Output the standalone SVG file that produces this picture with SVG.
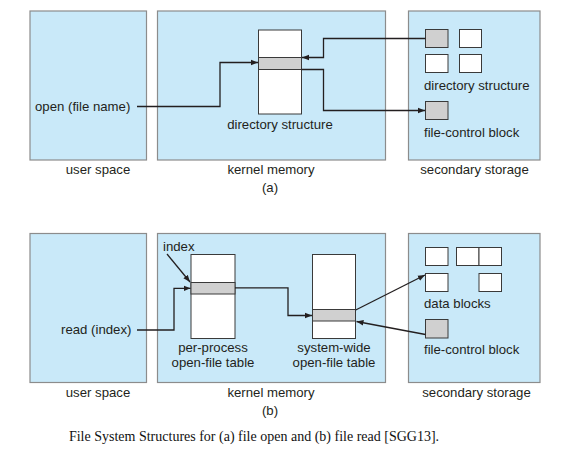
<svg xmlns="http://www.w3.org/2000/svg" width="575" height="458" viewBox="0 0 575 458">
<style>
.panel{fill:#c9e9f9;stroke:#8c8c8c;stroke-width:1.2}
.blk{fill:#ffffff;stroke:#3a3a3a;stroke-width:1}
.gblk{fill:#d0d0d0;stroke:#3a3a3a;stroke-width:1}
.t{font-family:"Liberation Sans",Arial,sans-serif;font-size:13.2px;fill:#231f20}
.m{text-anchor:middle}
.cap{font-family:"Liberation Serif","Times New Roman",serif;font-size:14px;fill:#111;text-anchor:middle}
.ln{fill:none;stroke:#231f20;stroke-width:1.3}
</style>
<defs>
<marker id="ah" viewBox="0 0 10 10" refX="10" refY="5" markerWidth="7" markerHeight="7" markerUnits="userSpaceOnUse" orient="auto">
<path d="M0,1 L10,5 L0,9 Z" fill="#231f20"/>
</marker>
</defs>

<g id="panel-a-user"><rect class="panel" x="30" y="11" width="116.5" height="149"/><text class="t m" x="98" y="174">user space</text></g>
<g id="panel-a-kernel"><rect class="panel" x="157.5" y="11" width="228" height="149"/><text class="t m" x="271" y="174">kernel memory</text></g>
<g id="panel-a-storage"><rect class="panel" x="408.5" y="11" width="131.5" height="149"/><text class="t m" x="474.5" y="174">secondary storage</text></g>
<g id="label-a"><text class="t m" x="270" y="192">(a)</text></g>

<g id="open-call"><text class="t" x="35" y="110.5">open (file name)</text></g>
<g id="dir-struct-mem"><rect class="blk" x="258.5" y="30" width="43" height="84"/><rect class="gblk" x="258.5" y="57.5" width="43" height="12"/><text class="t m" x="280" y="129">directory structure</text></g>
<g id="dir-struct-disk">
<rect class="gblk" x="425.5" y="29.5" width="22.5" height="18"/>
<rect class="blk" x="459.5" y="29.5" width="22" height="18"/>
<rect class="blk" x="425.5" y="54.5" width="22.5" height="18"/>
<rect class="blk" x="459.5" y="54.5" width="22" height="18"/>
<text class="t" x="424" y="89.5">directory structure</text>
</g>
<g id="fcb-a"><rect class="gblk" x="425.5" y="101.5" width="22.5" height="18"/><text class="t" x="424" y="137">file-control block</text></g>

<g id="panel-b-user"><rect class="panel" x="30" y="233.5" width="116.5" height="149"/><text class="t m" x="98" y="396.5">user space</text></g>
<g id="panel-b-kernel"><rect class="panel" x="157.5" y="233.5" width="228" height="149"/><text class="t m" x="271" y="396.5">kernel memory</text></g>
<g id="panel-b-storage"><rect class="panel" x="408.5" y="233.5" width="131.5" height="149"/><text class="t m" x="476.5" y="396.5">secondary storage</text></g>
<g id="label-b"><text class="t m" x="270" y="415">(b)</text></g>

<g id="read-call"><text class="t" x="61" y="334">read (index)</text></g>
<g id="index-label"><text class="t" x="163" y="251">index</text></g>
<g id="per-process-table"><rect class="blk" x="191" y="254.5" width="44" height="84"/><rect class="gblk" x="191" y="282.5" width="44" height="11.5"/><text class="t m" x="213" y="351.5">per-process</text><text class="t m" x="213" y="367">open-file table</text></g>
<g id="system-wide-table"><rect class="blk" x="312.5" y="254.5" width="43" height="84"/><rect class="gblk" x="312.5" y="309.5" width="43" height="11.5"/><text class="t m" x="334" y="351.5">system-wide</text><text class="t m" x="334" y="367">open-file table</text></g>
<g id="data-blocks">
<rect class="blk" x="425.5" y="247.5" width="22.5" height="18"/>
<rect class="blk" x="456.5" y="247.5" width="22.5" height="18"/>
<rect class="blk" x="479" y="247.5" width="22.5" height="18"/>
<rect class="blk" x="425.5" y="273.5" width="22.5" height="18"/>
<rect class="blk" x="479" y="273.5" width="22.5" height="18"/>
<text class="t" x="424" y="307.5">data blocks</text>
</g>
<g id="fcb-b"><rect class="gblk" x="425.5" y="319.5" width="22.5" height="18.5"/><text class="t" x="424" y="354">file-control block</text></g>

<g id="connectors">
<path class="ln" marker-end="url(#ah)" d="M137,106.5 H220 V62.5 H258"/>
<path class="ln" marker-end="url(#ah)" d="M425.5,38.5 H323.5 V57.5 H302"/>
<path class="ln" marker-end="url(#ah)" d="M301.5,69.5 H323.5 V110.5 H425"/>
<path class="ln" marker-end="url(#ah)" d="M137,330 H174 V288.3 H190.5"/>
<path class="ln" marker-end="url(#ah)" d="M167,254 L190,282"/>
<path class="ln" marker-end="url(#ah)" d="M235,287.8 H288 V315.5 H312"/>
<path class="ln" marker-end="url(#ah)" d="M355.7,310 L425,275"/>
<path class="ln" marker-end="url(#ah)" d="M425.5,334.5 L356.5,321.5"/>
</g>

<g id="caption"><text class="cap" x="254" y="441">File System Structures for (a) file open and (b) file read [SGG13].</text></g>
</svg>
